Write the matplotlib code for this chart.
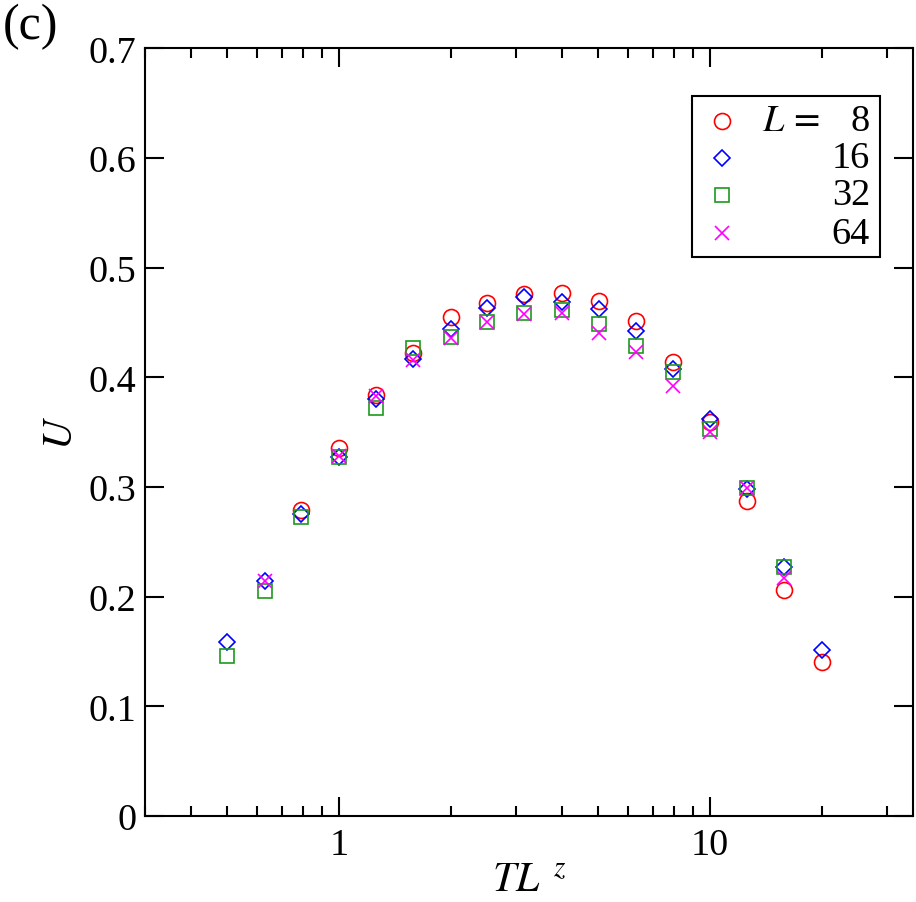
import matplotlib
matplotlib.use("Agg")
import matplotlib.pyplot as plt
from matplotlib.patches import Rectangle
from matplotlib.ticker import LogLocator, FixedLocator, NullLocator, FuncFormatter

plt.rcParams['font.family'] = ['Liberation Serif', 'DejaVu Serif']
plt.rcParams['mathtext.fontset'] = 'stix'

# ---- data ----
x_L8 = [0.79, 1.0, 1.26, 1.58, 2.0, 2.51, 3.16, 3.98, 5.01, 6.31, 7.94, 10.0, 12.6, 15.8, 20.0]
u_L8 = [0.279, 0.336, 0.384, 0.422, 0.455, 0.468, 0.476, 0.477, 0.470, 0.451, 0.414, 0.359, 0.287, 0.206, 0.140]

x_L16 = [0.5, 0.63, 0.79, 1.0, 1.26, 1.58, 2.0, 2.51, 3.16, 3.98, 5.01, 6.31, 7.94, 10.0, 12.6, 15.8, 20.0]
u_L16 = [0.159, 0.214, 0.275, 0.327, 0.380, 0.417, 0.444, 0.463, 0.473, 0.469, 0.462, 0.442, 0.408, 0.362, 0.298, 0.227, 0.151]

x_L32 = [0.5, 0.63, 0.79, 1.0, 1.26, 1.58, 2.0, 2.51, 3.16, 3.98, 5.01, 6.31, 7.94, 10.0, 12.6, 15.8]
u_L32 = [0.146, 0.205, 0.273, 0.327, 0.372, 0.427, 0.437, 0.450, 0.459, 0.461, 0.449, 0.429, 0.405, 0.353, 0.299, 0.227]

x_L64 = [0.63, 1.0, 1.26, 1.58, 2.0, 2.51, 3.16, 3.98, 5.01, 6.31, 7.94, 10.0, 12.6, 15.8]
u_L64 = [0.214, 0.328, 0.383, 0.416, 0.436, 0.450, 0.458, 0.459, 0.440, 0.423, 0.392, 0.350, 0.299, 0.217]

sizes = ['8', '16', '32', '64']
y_ticks = [0, 0.1, 0.2, 0.3, 0.4, 0.5, 0.6, 0.7]

red = '#ff0000'
blue = '#0000ff'
green = '#1e9a1e'
magenta = '#ff00ff'

series = [
    (x_L8, u_L8, 'o', red, 11.5),
    (x_L16, u_L16, 'D', blue, 8.0),
    (x_L32, u_L32, 's', green, 9.5),
    (x_L64, u_L64, 'x', magenta, 10.5),
]

fig = plt.figure(figsize=(9.16, 9.03), dpi=100)
ax = fig.add_axes([145/916, 1 - 817/903, (913-145)/916, (817-49.3)/903])

for xs, us, m, c, ms in series:
    ax.plot(xs, us, linestyle='none', marker=m, markersize=ms,
            markerfacecolor='none', markeredgecolor=c, markeredgewidth=1.2, color=c)

ax.set_xscale('log')
ax.set_xlim(0.3, 35.2)
ax.set_ylim(0, 0.7)

ax.xaxis.set_major_locator(FixedLocator([1, 10]))
ax.xaxis.set_major_formatter(FuncFormatter(lambda v, p: f"{v:g}"))
ax.xaxis.set_minor_locator(LogLocator(base=10, subs=[2, 3, 4, 5, 6, 7, 8, 9]))
ax.xaxis.set_minor_formatter(FuncFormatter(lambda v, p: ""))
ax.yaxis.set_major_locator(FixedLocator(y_ticks))
ax.yaxis.set_major_formatter(FuncFormatter(lambda v, p: "0" if v == 0 else f"{v:.1f}"))
ax.yaxis.set_minor_locator(NullLocator())

for s in ax.spines.values():
    s.set_linewidth(1.5)

ax.tick_params(which='both', direction='in', top=True, right=True, width=1.5,
               labelsize=27.5, colors='black')
ax.tick_params(which='major', length=13.5)
ax.tick_params(which='minor', length=7)
ax.tick_params(axis='x', which='major', pad=8)
ax.tick_params(axis='y', which='major', pad=6)

ax.set_xlabel(r'$TL^{\ \,z}$', fontsize=30, labelpad=0)
ax.set_ylabel(r'$U$', fontsize=30, labelpad=6)

fig.text(3/916, 1 - 4/903, '(c)', fontsize=36, ha='left', va='top')

# ---- legend (drawn manually for right-aligned labels) ----
ax.add_patch(Rectangle((0.712, 0.728), 0.957 - 0.712, 0.938 - 0.728,
                       transform=ax.transAxes, facecolor='white', edgecolor='black',
                       linewidth=1.5, zorder=5))
row_y = [0.905, 0.857, 0.809, 0.759]
for (xs, us, m, c, ms), lab, yy in zip(series, sizes, row_y):
    ax.plot([0.751], [yy], transform=ax.transAxes, linestyle='none', marker=m,
            markersize=ms, markerfacecolor='none', markeredgecolor=c,
            markeredgewidth=1.2, zorder=6, clip_on=False)
    ax.text(0.944, yy, lab, transform=ax.transAxes, ha='right', va='center',
            fontsize=27.5, zorder=6)
ax.text(0.803, row_y[0], r'$L\,=$', transform=ax.transAxes, ha='left', va='center',
        fontsize=27.5, zorder=6)

fig.savefig('out.png', dpi=100)
